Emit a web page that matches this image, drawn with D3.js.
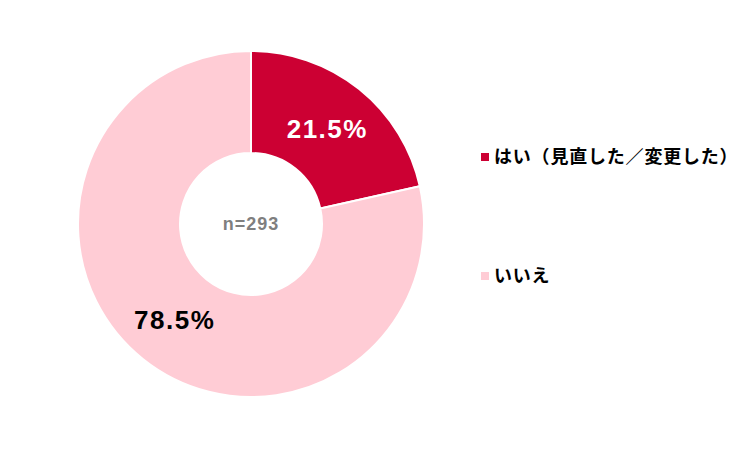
<!DOCTYPE html>
<html>
<head>
<meta charset="utf-8">
<script src="https://cdn.jsdelivr.net/npm/d3@7"></script>
<style>
  body { margin: 0; background: #fff; }
  svg { display: block; font-family: "Noto Sans CJK JP", "Liberation Sans", sans-serif; }
</style>
</head>
<body>
<svg width="753" height="449"></svg>
<script>
// data
var categories = ["はい（見直した／変更した）", "いいえ"];
var values = [21.5, 78.5];
var colors = ["#cc0033", "#ffccd5"];
var labelColors = ["#ffffff", "#000000"];
var nLabel = "n=293";

var svg = d3.select("svg");
var cx = 251, cy = 224, outerR = 173, innerR = 71;

var pie = d3.pie().sort(null).value(function (d) { return d; });
var arc = d3.arc().innerRadius(innerR).outerRadius(outerR);

var g = svg.append("g").attr("transform", "translate(" + cx + "," + cy + ")");

var arcs = pie(values);

g.selectAll(".slice")
    .data(arcs)
    .enter().append("path")
    .attr("class", "slice")
    .attr("d", arc)
    .attr("fill", function (d, i) { return colors[i]; })
    .attr("stroke", "#fff")
    .attr("stroke-width", 2);

// percentage labels
g.selectAll(".pct")
    .data(arcs)
    .enter().append("text")
    .attr("class", "pct")
    .attr("transform", function (d) { return "translate(" + arc.centroid(d) + ")"; })
    .attr("text-anchor", "middle")
    .attr("dy", "0.36em")
    .attr("font-family", "'Liberation Sans', Arial, sans-serif")
    .attr("font-size", 26)
    .attr("font-weight", "bold")
    .attr("letter-spacing", 1.5)
    .attr("fill", function (d, i) { return labelColors[i]; })
    .text(function (d) { return d.data.toFixed(1) + "%"; });

// center label
g.append("text")
    .attr("text-anchor", "middle")
    .attr("dy", "0.36em")
    .attr("font-family", "'Liberation Sans', Arial, sans-serif")
    .attr("font-size", 18)
    .attr("font-weight", "bold")
    .attr("letter-spacing", 1)
    .attr("fill", "#7f7f7f")
    .text(nLabel);

// legend
var legendY = d3.scalePoint().domain(categories).range([157, 276]);

var legend = svg.selectAll(".legend")
    .data(categories)
    .enter().append("g")
    .attr("class", "legend")
    .attr("transform", function (d) { return "translate(481," + legendY(d) + ")"; });

legend.append("rect")
    .attr("x", 0)
    .attr("y", -4)
    .attr("width", 8)
    .attr("height", 8)
    .attr("fill", function (d, i) { return colors[i]; });

legend.append("text")
    .attr("x", 13)
    .attr("dy", "0.36em")
    .attr("font-size", 18)
    .attr("font-weight", "bold")
    .attr("letter-spacing", 0.8)
    .attr("fill", "#000")
    .text(function (d) { return d; });
</script>
</body>
</html>
